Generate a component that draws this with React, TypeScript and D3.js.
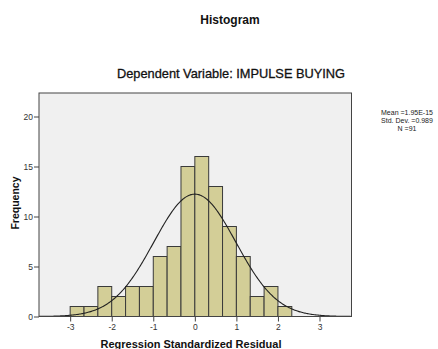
import React, { useEffect, useRef } from 'react';
import * as d3 from 'd3';

// histogram bins (left edges, width 1/3) and counts
const binStarts = [-3, -8 / 3, -7 / 3, -2, -5 / 3, -4 / 3, -1, -2 / 3, -1 / 3, 0, 1 / 3, 2 / 3, 1, 4 / 3, 5 / 3, 2];
const counts = [1, 1, 3, 2, 3, 3, 6, 7, 15, 16, 13, 9, 6, 2, 3, 1];
const binWidth = 1 / 3;
const xTicks = [-3, -2, -1, 0, 1, 2, 3];
const yTicks = [0, 5, 10, 15, 20];
const stats = { mean: 1.95e-15, sd: 0.989, n: 91 };
const statLines = ['Mean =1.95E-15', 'Std. Dev. =0.989', 'N =91'];

const W = 438;
const H = 349;
const font = "'Liberation Sans', Arial, sans-serif";

function App() {
  const ref = useRef<SVGSVGElement | null>(null);

  useEffect(() => {
    if (!ref.current) return;
    const svg = d3.select(ref.current);
    svg.selectAll('*').remove();

    const left = 39, right = 351.5, top = 93, bottom = 316.5;

    const x = d3.scaleLinear().domain([-3.75, 3.77]).range([left, right]);
    const y = d3.scaleLinear().domain([0, 22.35]).range([bottom, top]);

    svg.append('rect')
      .attr('x', left).attr('y', top)
      .attr('width', right - left).attr('height', bottom - top)
      .attr('fill', '#f0f0f0');

    svg.selectAll('rect.bar')
      .data(counts)
      .enter()
      .append('rect')
      .attr('class', 'bar')
      .attr('x', (_, i) => x(binStarts[i]))
      .attr('y', (d) => y(d))
      .attr('width', (_, i) => x(binStarts[i] + binWidth) - x(binStarts[i]))
      .attr('height', (d) => bottom - y(d))
      .attr('fill', '#d3ce97')
      .attr('stroke', '#3a3a3a')
      .attr('stroke-width', 1);

    // fitted normal curve
    const scale = stats.n * binWidth / (stats.sd * Math.sqrt(2 * Math.PI));
    const xs = d3.range(-3.75, 3.77, 0.02);
    const line = d3.line<number>()
      .x((d) => x(d))
      .y((d) => y(scale * Math.exp(-0.5 * ((d - stats.mean) / stats.sd) ** 2)));
    svg.append('path')
      .datum(xs)
      .attr('fill', 'none')
      .attr('stroke', '#222')
      .attr('stroke-width', 1.1)
      .attr('d', line);

    // frame
    svg.append('rect')
      .attr('x', left).attr('y', top)
      .attr('width', right - left).attr('height', bottom - top)
      .attr('fill', 'none')
      .attr('stroke', '#444')
      .attr('stroke-width', 1);

    const xAxis = d3.axisBottom(x).tickValues(xTicks).tickSize(5).tickPadding(2).tickFormat((d) => String(d));
    const gx = svg.append('g').attr('transform', `translate(0,${bottom})`).call(xAxis);
    gx.select('.domain').remove();
    gx.selectAll('line').attr('stroke', '#444');
    gx.selectAll('text').attr('font-family', font).attr('font-size', 8.5).attr('fill', '#333');

    const yAxis = d3.axisLeft(y).tickValues(yTicks).tickSize(5).tickPadding(1);
    const gy = svg.append('g').attr('transform', `translate(${left},0)`).call(yAxis);
    gy.select('.domain').remove();
    gy.selectAll('line').attr('stroke', '#444');
    gy.selectAll('text').attr('font-family', font).attr('font-size', 8.5).attr('fill', '#333');

    svg.append('text')
      .attr('x', 230).attr('y', 24)
      .attr('text-anchor', 'middle')
      .attr('font-family', font).attr('font-size', 12).attr('font-weight', 'bold')
      .attr('fill', '#111')
      .text('Histogram');

    svg.append('text')
      .attr('x', 231).attr('y', 78)
      .attr('text-anchor', 'middle')
      .attr('font-family', font).attr('font-size', 12.8)
      .attr('fill', '#111')
      .attr('stroke', '#111').attr('stroke-width', 0.3)
      .text('Dependent Variable: IMPULSE BUYING');

    svg.append('text')
      .attr('transform', `translate(19,${203}) rotate(-90)`)
      .attr('text-anchor', 'middle')
      .attr('font-family', font).attr('font-size', 10.5).attr('font-weight', 'bold')
      .attr('fill', '#111')
      .text('Frequency');

    svg.append('text')
      .attr('x', 191).attr('y', 347.5)
      .attr('text-anchor', 'middle')
      .attr('font-family', font).attr('font-size', 11).attr('font-weight', 'bold')
      .attr('fill', '#111')
      .text('Regression Standardized Residual');

    svg.selectAll('text.stat')
      .data(statLines)
      .enter()
      .append('text')
      .attr('class', 'stat')
      .attr('x', 407)
      .attr('y', (_, i) => 115 + i * 8)
      .attr('text-anchor', 'middle')
      .attr('font-family', font).attr('font-size', 7)
      .attr('fill', '#222')
      .text((d) => d);
  }, []);

  return (
    <div style={{ position: 'absolute', left: 0, top: 0, width: W, height: H, background: '#fff' }}>
      <svg ref={ref} width={W} height={H} />
    </div>
  );
}

export default App;
